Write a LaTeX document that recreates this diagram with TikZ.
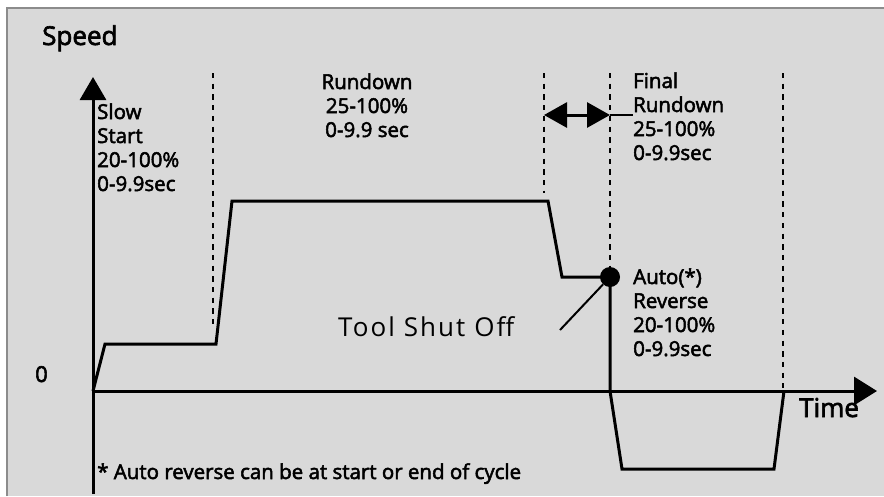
\documentclass[tikz,border=0pt]{standalone}
\usepackage{fontspec}
\setmainfont{Open Sans}
\newfontfamily\lblfont[FakeBold=2.5]{Open Sans}
\newfontfamily\spacedfont[LetterSpace=8]{Open Sans}
\usetikzlibrary{arrows.meta}
\definecolor{bgfill}{HTML}{D9D9D9}
\definecolor{framecol}{HTML}{8C8C8C}
\begin{document}
\begin{tikzpicture}[x=1pt,y=-1pt,
  curve/.style={line width=3pt, line join=miter},
  axisline/.style={line width=3pt},
  guide/.style={line width=2.7pt, dash pattern=on 5.3pt off 5.4pt},
  leader/.style={line width=2pt},
  lbl/.style={inner sep=0pt, anchor=base west, align=left, font=\lblfont\fontsize{20.5}{24}\selectfont},
  biglbl/.style={inner sep=0pt, anchor=base west, font=\lblfont\fontsize{26}{30}\selectfont},
  bighead/.style={-{Triangle[length=23pt,width=26pt]}},
  xhead/.style={-{Triangle[length=23pt,width=28pt]}},
  dblhead/.style={{Triangle[length=23pt,width=25pt]}-{Triangle[length=23pt,width=25pt]}}
]
\useasboundingbox (0,0) rectangle (884,496);
\fill[white] (0,0) rectangle (884,496);
\fill[bgfill] (7,8) rectangle (884,496);
\draw[framecol, line width=1.5pt] (7,496) -- (7,8) -- (884,8);

% axes
\coordinate (ybot) at (93,494);
\coordinate (ytop) at (93,77);
\coordinate (origin) at (93,391);
\coordinate (xend) at (877,391);
\draw[axisline, bighead] (ybot) -- (ytop);
\draw[axisline, xhead] (origin) -- (xend);

% guides
\coordinate (g1t) at (213,73); \coordinate (g1b) at (213,327);
\coordinate (g2t) at (544,73); \coordinate (g2b) at (544,193);
\coordinate (g3t) at (610,73); \coordinate (g3b) at (610,266);
\coordinate (g4t) at (783,73); \coordinate (g4b) at (783,388);
\draw[guide] (g1t) -- (g1b);
\draw[guide] (g2t) -- (g2b);
\draw[guide] (g3t) -- (g3b);
\draw[guide] (g4t) -- (g4b);

% speed profile
\coordinate (p1) at (105,344);
\coordinate (p2) at (216,344);
\coordinate (p3) at (232,201);
\coordinate (p4) at (548,201);
\coordinate (p5) at (562,277);
\coordinate (rev) at (610,277);
\coordinate (p7) at (610,391);
\coordinate (p8) at (622,469);
\coordinate (p9) at (774,469);
\coordinate (p10) at (784,391);
\draw[curve] (origin) -- (p1) -- (p2) -- (p3) -- (p4) -- (p5) -- (rev) -- (p7) -- (p8) -- (p9) -- (p10);
\node[circle, fill=black, minimum size=20pt, inner sep=0pt] (dot) at (rev) {};

% double arrow
\coordinate (da) at (544,115);
\coordinate (db) at (610,115);
\coordinate (dc) at (633,115);
\draw[axisline, dblhead] (da) -- (db);
\draw[leader] (db) -- (dc);

% labels (base anchor = baseline of the last line)
\node[biglbl] (speed) at (42,45) {Speed};
\node[biglbl] (time) at (799,417) {Time};
\node[inner sep=0pt, anchor=base west, font=\lblfont\fontsize{22}{24}\selectfont] (zero) at (35,382) {0};
\node[lbl] (slow) at (97,191) {Slow\\Start\\20-100\%\\0-9.9sec};
\node[lbl, anchor=base, align=center] (rund) at (367,137) {Rundown\\25-100\%\\0-9.9 sec};
\node[lbl] (final) at (633,160) {Final\\Rundown\\25-100\%\\0-9.9sec};
\node[lbl] (auto) at (633,356) {Auto(*)\\Reverse\\20-100\%\\0-9.9sec};
\node[lbl] (note) at (97,479) {* Auto reverse can be at start or end of cycle};
\node[inner sep=0pt, anchor=base west, font=\spacedfont\fontsize{26}{30}\selectfont] (shut) at (338,336) {Tool Shut Off};
\coordinate (shutend) at (560,330);
\draw[leader] (shutend) -- (dot);
\end{tikzpicture}
\end{document}
